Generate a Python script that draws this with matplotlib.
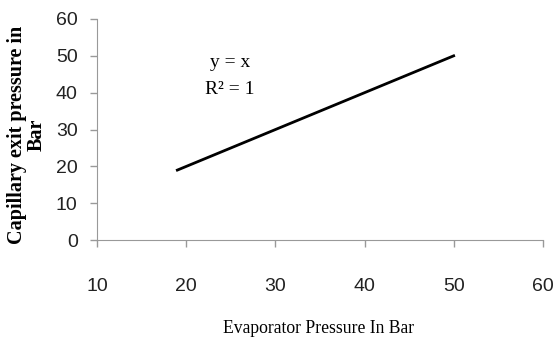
import matplotlib.pyplot as plt

evap = [19, 50]
cap_exit = [19, 50]
xticks = [10, 20, 30, 40, 50, 60]
yticks = [0, 10, 20, 30, 40, 50, 60]

fig = plt.figure(figsize=(5.55, 3.45), dpi=100)
ax = fig.add_axes([0.175, 0.304, 0.803, 0.641])

ax.plot(evap, cap_exit, color="black", linewidth=2)

ax.set_xlim(10, 60)
ax.set_ylim(0, 60)
ax.set_xticks(xticks)
ax.set_yticks(yticks)
for s in ["top", "right"]:
    ax.spines[s].set_visible(False)
for s in ["left", "bottom"]:
    ax.spines[s].set_color("#999999")
ax.tick_params(colors="#999999", length=5, width=1, labelcolor="#222222")
for lab in ax.get_xticklabels() + ax.get_yticklabels():
    lab.set_fontfamily("Liberation Sans")
    lab.set_fontsize(14)
ax.tick_params(axis="x", pad=22)
ax.tick_params(axis="y", pad=9)

ax.set_xlabel("Evaporator Pressure In Bar", fontfamily="Liberation Serif",
              fontsize=12.7)
ax.xaxis.set_label_coords(0.496, -0.362)
ax.set_ylabel("Capillary exit pressure in\nBar", fontfamily="Liberation Serif",
              fontsize=14.5, fontweight="bold", linespacing=0.95)
ax.yaxis.set_label_coords(-0.114, 0.475)

ax.text(0.298, 0.805, "y = x", transform=ax.transAxes, ha="center", va="center",
        fontfamily="Liberation Serif", fontsize=14)
ax.text(0.298, 0.683, "R² = 1", transform=ax.transAxes, ha="center", va="center",
        fontfamily="Liberation Serif", fontsize=14)

fig.savefig("out.png", dpi=100)
